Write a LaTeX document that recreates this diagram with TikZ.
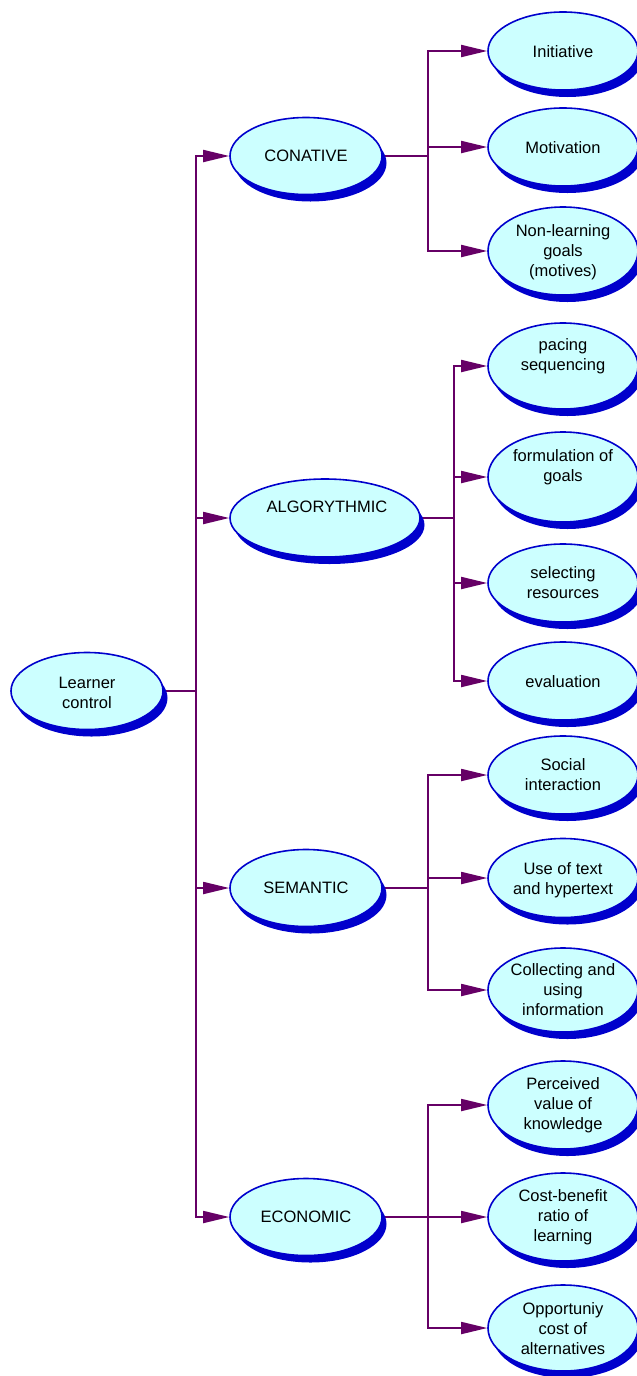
\documentclass[tikz,border=0pt]{standalone}
\usepackage{fontspec}
\setmainfont{Liberation Sans}
\usetikzlibrary{shapes.geometric,shadows,arrows.meta,backgrounds}
\definecolor{bfill}{HTML}{CCFFFF}
\definecolor{bline}{HTML}{0000CC}
\definecolor{conn}{HTML}{660066}
\begin{document}
\begin{tikzpicture}[x=1pt,y=-1pt,
  bubble/.style={ellipse, draw=bline, line width=1.6pt, fill=bfill, inner sep=0pt,
    drop shadow={shadow xshift=4.5pt, shadow yshift=-7pt, fill=bline, opacity=1}},
  cat/.style={bubble, minimum width=152pt, minimum height=77pt},
  leaf/.style={bubble, minimum width=150pt},
  txt/.style={align=center, font=\fontsize{16.5pt}{20pt}\selectfont, inner sep=0pt},
  link/.style={draw=conn, line width=1.8pt},
  arr/.style={link, -{Triangle[length=26pt,width=12pt]}}]
\useasboundingbox (0,0) rectangle (637,1376);

\coordinate (tr) at (196,691);
\coordinate (b1) at (428,156);
\coordinate (b2) at (454,518);
\coordinate (b3) at (428,888);
\coordinate (b4) at (428,1217);

% root
\node[cat] (root) at (87,691) {};
\node[txt] at (87,693) {Learner\\control};

% categories
\node[cat] (c1) at (306,156) {};
\node[txt] at (306,156) {CONATIVE};
\node[cat, minimum width=190pt, minimum height=78pt] (c2) at (325,518) {};
\node[txt] at (327,507) {ALGORYTHMIC};
\node[cat] (c3) at (306,888) {};
\node[txt] at (306,888) {SEMANTIC};
\node[cat] (c4) at (306,1217) {};
\node[txt] at (306,1217) {ECONOMIC};

% leaves
\node[leaf, minimum height=78pt] (l11) at (563,51) {};
\node[txt] at (563,52) {Initiative};
\node[leaf, minimum height=78pt] (l12) at (563,147) {};
\node[txt] at (563,148) {Motivation};
\node[leaf, minimum height=88pt] (l13) at (563,251) {};
\node[txt] at (563,252) {Non-learning\\goals\\(motives)};

\node[leaf, minimum height=86pt] (l21) at (563,366) {};
\node[txt] at (563,356) {pacing\\sequencing};
\node[leaf, minimum height=90pt] (l22) at (563,477) {};
\node[txt] at (563,467) {formulation of\\goals};
\node[leaf, minimum height=78pt] (l23) at (563,583) {};
\node[txt] at (563,583) {selecting\\resources};
\node[leaf, minimum height=78pt] (l24) at (563,681) {};
\node[txt] at (563,682) {evaluation};

\node[leaf, minimum height=78pt] (l31) at (563,775) {};
\node[txt] at (563,775) {Social\\interaction};
\node[leaf, minimum height=79pt] (l32) at (563,878) {};
\node[txt] at (563,880) {Use of text\\and hypertext};
\node[leaf, minimum height=84pt] (l33) at (563,990) {};
\node[txt] at (563,990) {Collecting and\\using\\information};

\node[leaf, minimum height=88pt] (l41) at (563,1105) {};
\node[txt] at (563,1105) {Perceived\\value of\\knowledge};
\node[leaf, minimum height=88pt] (l42) at (563,1217) {};
\node[txt] at (563,1217) {Cost-benefit\\ratio of\\learning};
\node[leaf, minimum height=86pt] (l43) at (563,1328) {};
\node[txt] at (563,1329) {Opportuniy\\cost of\\alternatives};

% connectors (behind the bubbles)
\begin{pgfonlayer}{background}
\draw[link] (root.east) -- (tr);
\draw[arr] (tr) |- (c1.west);
\draw[arr] (tr) |- (c2.west);
\draw[arr] (tr) |- (c3.west);
\draw[arr] (tr) |- (c4.west);

\draw[link] (c1.east) -- (b1);
\draw[arr] (b1) |- (l11.west);
\draw[arr] (b1) |- (l12.west);
\draw[arr] (b1) |- (l13.west);

\draw[link] (c2.east) -- (b2);
\draw[arr] (b2) |- (l21.west);
\draw[arr] (b2) |- (l22.west);
\draw[arr] (b2) |- (l23.west);
\draw[arr] (b2) |- (l24.west);

\draw[link] (c3.east) -- (b3);
\draw[arr] (b3) |- (l31.west);
\draw[arr] (b3) |- (l32.west);
\draw[arr] (b3) |- (l33.west);

\draw[link] (c4.east) -- (b4);
\draw[arr] (b4) |- (l41.west);
\draw[arr] (b4) |- (l42.west);
\draw[arr] (b4) |- (l43.west);
\end{pgfonlayer}
\end{tikzpicture}
\end{document}
